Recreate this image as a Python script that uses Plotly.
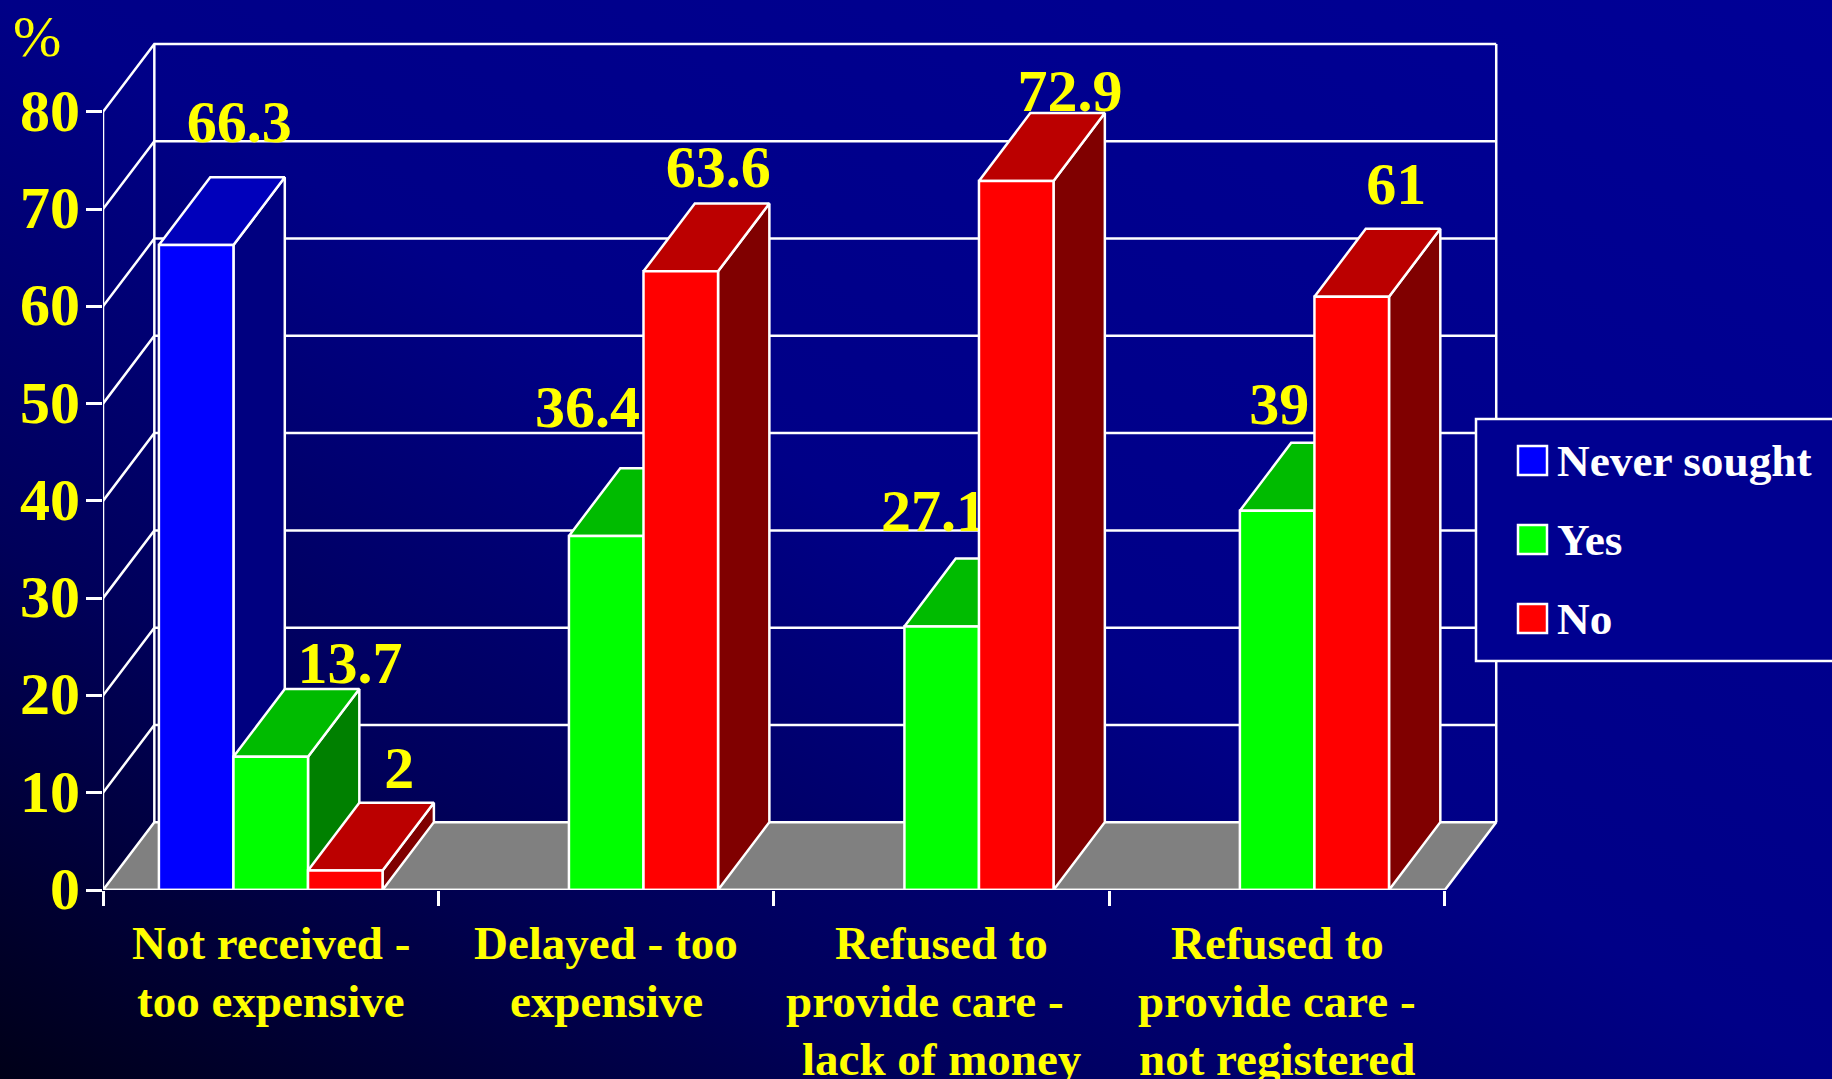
import base64
import plotly.graph_objects as go

# ---------- data ----------
categories = [
    ["Not received -", "too expensive"],
    ["Delayed - too", "expensive"],
    ["Refused to", "provide care -", "lack of money"],
    ["Refused to", "provide care -", "not registered"],
]
never_sought = [66.3, None, None, None]
yes_values = [13.7, 36.4, 27.1, 39]
no_values = [2, 63.6, 72.9, 61]
y_ticks = [0, 10, 20, 30, 40, 50, 60, 70, 80]
legend_names = ["Never sought", "Yes", "No"]

# manual label offsets from the centre/top of each 3-D bar (axis units)
never_label_dx = [0.052, None, None, None]
never_label_dy = [5.2, None, None, None]
yes_label_dx = [0.160, -0.132, -0.101, -0.070]
yes_label_dy = [2.2, 5.8, 4.4, 3.5]
no_label_dx = [0.084, 0.035, 0.084, 0.056]
no_label_dy = [3.1, 3.25, 1.75, 4.05]

# ---------- style / geometry ----------
W, H = 1832, 1079
L, R, T, B = 103, 1512, 34, 890   # plot area also holds the 3-D depth
X_MAX, Y_MAX = 4.2, 88
DX, DY = 0.153, 6.97              # 3-D depth in axis units
BAR, SIDE = 2 / 9, 1 / 6          # bar width and group side gap
FONT = "Liberation Serif"
WHITE, YELLOW = "#ffffff", "#ffff00"
LW = 2.5
series = [
    (legend_names[0], never_sought, never_label_dx, never_label_dy, "#0000ff", "#0000bb", "#000080"),
    (legend_names[1], yes_values, yes_label_dx, yes_label_dy, "#00ff00", "#00bb00", "#008000"),
    (legend_names[2], no_values, no_label_dx, no_label_dy, "#ff0000", "#bb0000", "#800000"),
]


def px(x):
    return (x - L) / (R - L)


def py(y):
    return (B - y) / (B - T)


fig = go.Figure()


def line(xs, ys):
    fig.add_trace(go.Scatter(x=xs, y=ys, mode="lines", line=dict(color=WHITE, width=LW),
                             hoverinfo="skip", showlegend=False, cliponaxis=False))


def poly(xs, ys, fill, name=None):
    fig.add_trace(go.Scatter(x=xs + xs[:1], y=ys + ys[:1], mode="lines", fill="toself", fillcolor=fill,
                             line=dict(color=WHITE, width=LW), name=name, hoverinfo="skip",
                             showlegend=False, cliponaxis=False))


n = len(categories)
# back wall and side wall
for v in y_ticks[1:]:
    line([0, DX, n + DX], [v, v + DY, v + DY])
line([DX, DX], [DY, y_ticks[-1] + DY])
line([n + DX, n + DX], [DY, y_ticks[-1] + DY])
# floor
poly([0, DX, n + DX, n], [0, DY, DY, 0], "#808080")

# value labels sit behind the bars
for si, (name, vals, ldx, ldy, *_c) in enumerate(series):
    lx, ly, lt = [], [], []
    for c, v in enumerate(vals):
        if v is None:
            continue
        x0 = c + SIDE + si * BAR
        lx.append(x0 + (BAR + DX) / 2 + ldx[c])
        ly.append(v + DY + ldy[c])
        lt.append(str(v))
    fig.add_trace(go.Scatter(x=lx, y=ly, text=lt, mode="text", textposition="middle center",
                             textfont=dict(family=FONT, size=60, color=YELLOW, weight=700),
                             hoverinfo="skip", showlegend=False, cliponaxis=False, name=name))

# bars, left to right
for c in range(n):
    for si, (name, vals, _dx, _dy, front, top, side) in enumerate(series):
        v = vals[c]
        if v is None:
            continue
        x0 = c + SIDE + si * BAR
        x1 = x0 + BAR
        poly([x1, x1 + DX, x1 + DX, x1], [0, DY, v + DY, v], side, name)
        poly([x0, x1, x1 + DX, x0 + DX], [v, v, v + DY, v + DY], top, name)
        poly([x0, x1, x1, x0], [0, 0, v, v], front, name)

# axis lines
line([0, 0], [0, y_ticks[-1]])
line([0, n], [0, 0])

# category labels, one annotation per line
rows = [943, 1001, 1058.5]
annotations = []
for c, lines in enumerate(categories):
    for r, txt in enumerate(lines):
        shift = -17 if (c == 2 and r == 1) else 0
        annotations.append(dict(x=c + 0.5, xref="x", y=py(rows[r]), yref="paper", text=txt, showarrow=False,
                                xanchor="center", yanchor="middle", xshift=shift,
                                font=dict(family=FONT, size=47, color=YELLOW, weight=700)))
annotations.append(dict(x=px(37), y=py(36), xref="paper", yref="paper", text="%", showarrow=False,
                        xanchor="center", yanchor="middle", font=dict(family=FONT, size=58, color=YELLOW)))

# legend box
shapes = [dict(type="rect", xref="paper", yref="paper", x0=px(1476), x1=px(1840), y0=py(419), y1=py(661),
               fillcolor="#000090", line=dict(color=WHITE, width=LW), layer="above")]
for i, (name, *_r) in enumerate(series):
    color = series[i][4]
    top_y = 446 + i * 79
    shapes.append(dict(type="rect", xref="paper", yref="paper", x0=px(1518), x1=px(1547), y0=py(top_y),
                       y1=py(top_y + 29), fillcolor=color, line=dict(color=WHITE, width=LW), layer="above"))
    annotations.append(dict(x=px(1555), y=py(top_y + 15), xref="paper", yref="paper", text=name, showarrow=False,
                            xanchor="left", yanchor="middle",
                            font=dict(family=FONT, size=45.3, color=WHITE, weight=700)))

# background gradient
svg = ('<svg xmlns="http://www.w3.org/2000/svg" width="1832" height="1079" preserveAspectRatio="none">'
       '<defs><linearGradient id="g" x1="0" y1="1" x2="1" y2="0">'
       '<stop offset="0" stop-color="#000018"/><stop offset="0.25" stop-color="#00005a"/>'
       '<stop offset="0.5" stop-color="#000087"/><stop offset="1" stop-color="#000096"/>'
       '</linearGradient></defs><rect width="1832" height="1079" fill="url(#g)"/></svg>')
bg = "data:image/svg+xml;base64," + base64.b64encode(svg.encode()).decode()

fig.update_layout(
    width=W, height=H, autosize=False,
    margin=dict(l=L, r=W - R, t=T, b=H - B, pad=0),
    paper_bgcolor="rgba(0,0,0,0)", plot_bgcolor="rgba(0,0,0,0)",
    showlegend=False, annotations=annotations, shapes=shapes,
    images=[dict(source=bg, xref="paper", yref="paper", x=px(0), y=py(0), sizex=W / (R - L), sizey=H / (B - T),
                 sizing="stretch", xanchor="left", yanchor="top", layer="below")],
    xaxis=dict(range=[0, X_MAX], tickmode="array", tickvals=list(range(n + 1)), showticklabels=False, ticks="outside",
               ticklen=15, tickwidth=LW, tickcolor=WHITE, showline=False,
               showgrid=False, zeroline=False),
    yaxis=dict(range=[0, Y_MAX], tickmode="array", tickvals=y_ticks, ticks="outside", ticklen=16, tickwidth=LW,
               tickcolor=WHITE, showline=False, showgrid=False, zeroline=False,
               ticklabelstandoff=-6, ticklabelshift=-2,
               tickfont=dict(family=FONT, size=60, color=YELLOW, weight=700)),
)

fig.write_html("out.html", config=dict(displayModeBar=False),
               post_script="document.body.style.margin='0';document.body.style.background='#000080';"
                           "document.documentElement.style.overflow='hidden';")
